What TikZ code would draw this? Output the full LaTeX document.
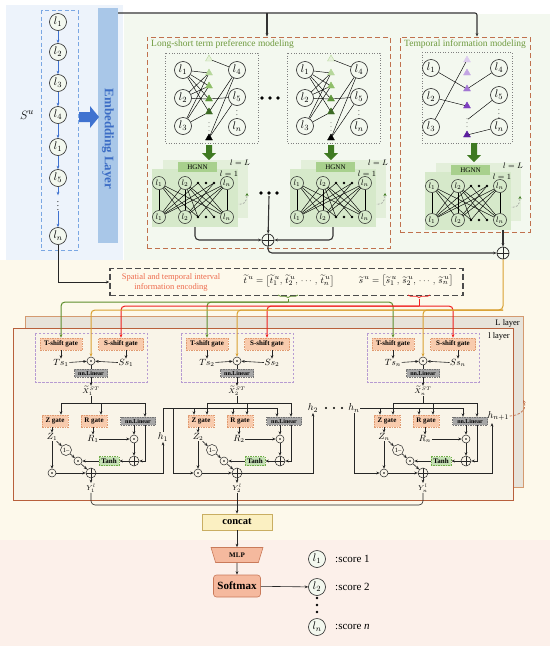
\documentclass[tikz,border=0pt]{standalone}
\usepackage{fontspec}
\setmainfont{Liberation Serif}
\usepackage{amsmath}
\usetikzlibrary{arrows.meta,decorations.pathreplacing,shapes.geometric,calc}
\definecolor{bluepanel}{HTML}{EDF3FB}
\definecolor{greenpanel}{HTML}{F3F8EF}
\definecolor{yellowpanel}{HTML}{FDF9EB}
\definecolor{pinkpanel}{HTML}{FCF0EA}
\definecolor{embfill}{HTML}{A9C7E8}
\definecolor{embtext}{HTML}{3C6DC5}
\definecolor{seqblue}{HTML}{3F72D0}
\definecolor{seqdash}{HTML}{7AA7E3}
\definecolor{brownd}{HTML}{C0714E}
\definecolor{labgreen}{HTML}{6E9A3E}
\definecolor{darkgreen}{HTML}{3F7A22}
\definecolor{hgback}{HTML}{E3EFDA}
\definecolor{hgfront}{HTML}{D6E9CA}
\definecolor{hgnnbox}{HTML}{A8D08D}
\definecolor{gatefill}{HTML}{F8CBAD}
\definecolor{gatedraw}{HTML}{E09A70}
\definecolor{linfill}{HTML}{A6A6A6}
\definecolor{tanhfill}{HTML}{C5E0B4}
\definecolor{tanhdraw}{HTML}{70AD47}
\definecolor{Lfill}{HTML}{E7E3DA}
\definecolor{Ldraw}{HTML}{D49A70}
\definecolor{lfill}{HTML}{F9F4E8}
\definecolor{ldraw}{HTML}{B8603C}
\definecolor{cellpurple}{HTML}{B79BD2}
\definecolor{encred}{HTML}{EE6B4D}
\definecolor{lineorange}{HTML}{D9A030}
\definecolor{linegreen}{HTML}{5E8E2E}
\definecolor{linered}{HTML}{F02020}
\definecolor{mlpfill}{HTML}{F5B99E}
\definecolor{mlpdraw}{HTML}{C97A5A}
\definecolor{concatfill}{HTML}{FBF0C2}
\definecolor{concatdraw}{HTML}{C9AE62}
\definecolor{ga}{HTML}{E6F1DA}\definecolor{gaa}{HTML}{B9D99E}
\definecolor{gb}{HTML}{B6D79B}\definecolor{gc}{HTML}{8FBF69}
\definecolor{gd}{HTML}{5E963A}\definecolor{ge}{HTML}{3C6A24}
\definecolor{pa}{HTML}{DDCCEE}\definecolor{pb}{HTML}{C3A5E3}
\definecolor{pc}{HTML}{A277D3}\definecolor{pd}{HTML}{7E3FC0}
\definecolor{pe}{HTML}{5B1F9E}
\tikzset{
  arr/.style={-{Stealth[length=3.5pt,width=2.8pt]}},
  conn/.style={draw=black!85,line width=0.6pt},
  thk/.style={draw=black!80,line width=1.1pt},
  thinl/.style={draw=black,line width=0.45pt},
  cir/.style={circle,draw=black!85,line width=0.6pt,minimum size=17pt,inner sep=0pt,fill=greenpanel,font=\fontsize{11}{11}\selectfont},
  hc/.style={circle,draw=black!85,line width=0.5pt,minimum size=13pt,inner sep=0pt,fill=hgfront,font=\fontsize{8.5}{8.5}\selectfont},
  tri/.style={regular polygon,regular polygon sides=3,minimum size=8pt,inner sep=0pt,line width=0.4pt},
  dotbox/.style={draw=black!50,dotted,line width=0.6pt},
  gatebox/.style={draw=gatedraw,dashed,dash pattern=on 1.5pt off 1pt,fill=gatefill,font=\bfseries\fontsize{7}{7}\selectfont,inner xsep=2pt,minimum height=12pt,inner ysep=0pt,line width=0.5pt},
  linbox/.style={draw=black!55,dashed,dash pattern=on 1.5pt off 1pt,fill=linfill,font=\bfseries\fontsize{6}{6}\selectfont,inner xsep=2pt,minimum height=8pt,inner ysep=0pt,line width=0.4pt},
  tanhbox/.style={draw=tanhdraw,dashed,dash pattern=on 1.5pt off 1pt,fill=tanhfill,font=\bfseries\fontsize{7}{7}\selectfont,inner xsep=2.5pt,minimum height=9pt,inner ysep=0pt,line width=0.5pt},
  odot/.style={circle,draw=black!85,line width=0.5pt,minimum size=8pt,inner sep=0pt,fill=lfill,path picture={\fill[black] (path picture bounding box.center) circle (0.8pt);}},
  oplus/.style={circle,draw=black!85,line width=0.5pt,minimum size=10pt,inner sep=0pt,fill=lfill,path picture={\draw[line width=0.5pt] (path picture bounding box.north) -- (path picture bounding box.south) (path picture bounding box.west) -- (path picture bounding box.east);}},
  bigplus/.style={circle,draw=black!85,line width=0.7pt,minimum size=12pt,inner sep=0pt,fill=greenpanel,path picture={\draw[line width=0.7pt] (path picture bounding box.north) -- (path picture bounding box.south) (path picture bounding box.west) -- (path picture bounding box.east);}},
  omin/.style={circle,draw=black!85,line width=0.5pt,minimum size=11pt,inner sep=0pt,fill=lfill,font=\fontsize{6.5}{6.5}\selectfont},
  lbl/.style={inner sep=0.5pt,font=\fontsize{9}{9}\selectfont},
  xlbl/.style={inner sep=0.5pt,font=\fontsize{7.5}{7.5}\selectfont},
  cellbox/.style={draw=cellpurple,dashed,dash pattern=on 2.5pt off 1.5pt,line width=0.7pt},
}
\newcommand{\fatarrow}[4]{\fill[#4] (#1-3,#2) -- (#1+3,#2) -- (#1+3,#3-7) -- (#1+7,#3-7) -- (#1,#3) -- (#1-7,#3-7) -- (#1-3,#3-7) -- cycle;}
\newcommand{\lssub}[2]{%
\begin{scope}[shift={(#1,0)}]
\draw[dotbox] (165,53) rectangle (258,143);
\node[cir] (#2a) at (183,70) {$l_1$};
\node[cir] (#2b) at (183,98) {$l_2$};
\node[cir] (#2c) at (183,126) {$l_3$};
\node[cir] (#2d) at (237,70) {$l_4$};
\node[cir] (#2e) at (237,97) {$l_5$};
\node[font=\fontsize{7}{7}\selectfont] (#2v) at (237,112) {$\vdots$};
\node[cir] (#2f) at (237,127) {$l_n$};
\node[tri,fill=ga,draw=gaa] (#2t1) at (209,59) {};
\node[tri,fill=gb,draw=gb] (#2t2) at (209,73) {};
\node[tri,fill=gc,draw=gc] (#2t3) at (209,86) {};
\node[tri,fill=gd,draw=gd] (#2t4) at (209,99) {};
\node[tri,fill=ge,draw=ge] (#2t5) at (209,112) {};
\node[font=\fontsize{6}{6}\selectfont] (#2tv) at (209,124) {$\vdots$};
\node[tri,fill=black,draw=black] (#2t6) at (209,138) {};
\foreach \u/\v in {a/t2,a/t3,a/t4,a/t5,b/t2,b/t3,b/t4,c/t2,c/t3,c/t5,t1/d,t5/d,t6/d,t4/e,t6/e}
  \draw[thinl] (#2\u) -- (#2\v);
\end{scope}}
\newcommand{\hgnnstack}[3]{%
\begin{scope}[shift={(#1,#2)}]
\node[fill=hgback,minimum width=85pt,minimum height=58pt,inner sep=0pt] (#3B) at (205.5,189) {};
\draw[dashed,dash pattern=on 2pt off 1.5pt,draw=black!45,line width=0.5pt,-{Stealth[length=3pt,width=3pt,color=darkgreen]}] (236,204) -- (241,204) to[out=0,in=-90] (247,193);
\node[fill=hgfront,minimum width=86pt,minimum height=58pt,inner sep=0pt] (#3F) at (195,198) {};
\coordinate (#3tm1) at (198,183); \coordinate (#3tm2) at (214,183);
\coordinate (#3bm1) at (198,217); \coordinate (#3bm2) at (214,217);
\node[hc] (#3t1) at (159,183) {$l_1$};
\node[hc] (#3t2) at (185,183) {$l_2$};
\node[hc] (#3tn) at (227,183) {$l_n$};
\node[hc] (#3b1) at (159,217) {$l_1$};
\node[hc] (#3b2) at (185,217) {$l_2$};
\node[hc] (#3bn) at (227,217) {$l_n$};
\foreach \u/\v in {t1/b1,t1/b2,t1/bn,t2/b1,t2/b2,t2/bn,tn/b1,tn/b2,tn/bn,t1/bm1,t2/bm2,tm1/b1,tm2/b2,tm1/bn,tm2/b1,t2/bm1,tn/bm1}
  \draw[thinl] (#3\u) -- (#3\v);
\foreach \xx in {198,206,214} {\fill (\xx,183) circle (1.3pt); \fill (\xx,217) circle (1.3pt);}
\node[fill=hgnnbox,minimum width=39pt,minimum height=10pt,inner sep=0pt,font=\fontsize{7}{7}\selectfont] (#3H) at (197.5,167) {HGNN};
\node[inner sep=0pt,font=\fontsize{8.5}{8.5}\selectfont] (#3lL) at (240,163) {$l=L$};
\node[inner sep=0pt,font=\fontsize{8.5}{8.5}\selectfont] (#3l1) at (229,174) {$l=1$};
\end{scope}}
\newcommand{\grucell}[3]{%
\begin{scope}[shift={(#1,0)}]
\draw[cellbox] (0,333) rectangle (112,382);
\node[gatebox,minimum width=42pt] (#2T) at (26,344) {T-shift gate};
\node[gatebox,minimum width=45pt] (#2S) at (86,344) {S-shift gate};
\node[lbl] (#2Ts) at (26,363) {$Ts_{#3}$};
\node[lbl] (#2Ss) at (91,363) {$Ss_{#3}$};
\node[odot] (#2o1) at (56,361) {};
\node[linbox,minimum width=33pt] (#2L1) at (56,373) {nn.Linear};
\node[xlbl] (#2X) at (56,391) {$\widetilde{X}_{#3}^{ST}$};
\node[gatebox,minimum width=26pt] (#2Z) at (20,421) {Z gate};
\node[gatebox,minimum width=26pt] (#2R) at (59,421) {R gate};
\node[linbox,minimum width=35pt] (#2L2) at (103,421) {nn.Linear};
\node[lbl] (#2Zl) at (17,437) {$Z_{#3}$};
\node[lbl] (#2Rl) at (58,439) {$R_{#3}$};
\node[odot] (#2o2) at (99,439) {};
\node[omin] (#2m) at (31,450) {1--};
\node[odot] (#2o3) at (43,461) {};
\node[tanhbox] (#2tanh) at (74,461) {Tanh};
\node[oplus] (#2p1) at (99,461) {};
\node[odot] (#2o4) at (17,473) {};
\node[oplus] (#2p2) at (56,473) {};
\node[xlbl] (#2Y) at (56,488) {$Y_{#3}^{l}$};
\coordinate (#2xa) at (26,403); \coordinate (#2xb) at (66,403); \coordinate (#2xc) at (110,403);
\coordinate (#2ha) at (13,408); \coordinate (#2hb) at (52,408); \coordinate (#2hc) at (96,408);
\draw[conn,arr] (#2T) -- (#2Ts);
\draw[conn,arr] (#2S.south -| #2Ss) -- (#2Ss);
\draw[conn,arr] (#2Ts) -- (#2o1);
\draw[conn,arr] (#2Ss) -- (#2o1);
\draw[conn] (#2o1) -- (#2L1);
\draw[conn,arr] (#2L1) -- (#2X);
\draw[conn] (#2X) -- (#2X |- #2xa);
\draw[conn] (#2xa) -- (#2xc);
\draw[conn,arr] (#2xa) -- (#2xa |- #2Z.north);
\draw[conn,arr] (#2xb) -- (#2xb |- #2R.north);
\draw[conn,arr] (#2xc) -- (#2xc |- #2L2.north);
\draw[conn,arr] (#2xc |- #2L2.south) |- (#2p1);
\draw[conn,arr] (#2L2.south -| #2o2) -- (#2o2);
\draw[conn,arr] (#2Rl) -- (#2o2);
\draw[conn,arr] (#2Z.south -| #2Zl) -- (#2Zl);
\draw[conn,arr] (#2R.south -| #2Rl) -- (#2Rl);
\draw[conn,arr] (#2Zl) -- (#2m);
\draw[conn,arr] (#2m) -- (#2o3);
\draw[conn,arr] (#2Zl) -- (#2o4);
\draw[conn,arr] (#2o2) -- (#2p1);
\draw[conn,arr] (#2p1) -- (#2tanh);
\draw[conn,arr] (#2tanh) -- (#2o3);
\draw[conn,arr] (#2o3) -- (#2p2);
\draw[conn,arr] (#2o4) -- (#2p2);
\draw[conn,arr] (#2p2) -- (#2Y);
\end{scope}}
\begin{document}
\begin{tikzpicture}[x=1pt,y=-1pt]
\useasboundingbox (0,0) rectangle (550,646);
\fill[white] (0,0) rectangle (550,646);
% panels
\fill[greenpanel] (124,14) rectangle (550,260);
\fill[bluepanel] (6,5) rectangle (123,260);
\fill[yellowpanel] (0,260) rectangle (550,540);
\fill[pinkpanel] (0,540) rectangle (550,646);
% sequence
\draw[seqdash,dashed,dash pattern=on 4pt off 2.5pt,line width=0.7pt] (41,10) rectangle (78,250);
\begin{scope}[every node/.append style={fill=bluepanel}]
\node[cir] (s1) at (58,22) {$l_1$};
\node[cir] (s2) at (58,52) {$l_2$};
\node[cir] (s3) at (58,83) {$l_3$};
\node[cir] (s4) at (58,115) {$l_4$};
\node[cir] (s5) at (58,147) {$l_1$};
\node[cir] (s6) at (58,178) {$l_5$};
\node[inner sep=0pt,font=\fontsize{9}{9}\selectfont] (sdots) at (58,203) {$\vdots$};
\node[cir] (sn) at (58,236) {$l_n$};
\end{scope}
\foreach \a/\b in {s1/s2,s2/s3,s3/s4,s4/s5,s5/s6,s6/sdots,sdots/sn}
  \draw[seqblue,line width=0.8pt,arr] (\a) -- (\b);
\node[font=\fontsize{13}{13}\selectfont] (Su) at (27,115) {$S^{u}$};
% embedding
\node[fill=embfill,minimum width=20pt,minimum height=235pt,inner sep=0pt] (emb) at (108,125.5) {};
\node[rotate=-90,text=embtext,font=\bfseries\fontsize{13}{13}\selectfont] (embt) at (108,139) {Embedding Layer};
\fill[seqblue] (79,112) -- (90,112) -- (90,106) -- (99,117) -- (90,128) -- (90,122) -- (79,122) -- cycle;
% modules
\node[draw=brownd,dashed,dash pattern=on 5pt off 3pt,line width=0.9pt,minimum width=243pt,minimum height=211pt,inner sep=0pt] (lsbox) at (268.5,142.5) {};
\node[draw=brownd,dashed,dash pattern=on 5pt off 3pt,line width=0.9pt,minimum width=130pt,minimum height=195pt,inner sep=0pt] (tbox) at (465,134.5) {};
\node[anchor=west,text=labgreen,inner sep=0pt,font=\fontsize{9.5}{9.5}\selectfont] (lslab) at (151,44) {Long-short term preference modeling};
\node[anchor=west,text=labgreen,inner sep=0pt,font=\fontsize{9.5}{9.5}\selectfont] (tlab) at (404,44) {Temporal information modeling};
\coordinate (tl0) at (118,13); \coordinate (tl1) at (267,13); \coordinate (tl2) at (477,13);
\draw[thk,arr,rounded corners=2pt] (tl0) -| (tl2 |- tbox.north);
\draw[thk,arr] (tl1) -- (tl1 |- lsbox.north);
\lssub{0}{la}
\lssub{122}{lb}
\foreach \xx in {262,270,278} \fill (\xx,98) circle (1.8pt);
% temporal sub-box
\draw[dotbox] (422,52) rectangle (512,143);
\node[cir] (ta) at (431,68) {$l_1$};
\node[cir] (tb) at (431,97) {$l_2$};
\node[cir] (tc) at (431,127) {$l_3$};
\node[cir] (td) at (499,68) {$l_4$};
\node[cir] (te) at (499,95) {$l_5$};
\node[font=\fontsize{7}{7}\selectfont] (tv) at (499,111) {$\vdots$};
\node[cir] (tf) at (499,127) {$l_n$};
\node[tri,fill=pa,draw=pa] (tt1) at (467,60) {};
\node[tri,fill=pb,draw=pb] (tt2) at (467,73) {};
\node[tri,fill=pc,draw=pc] (tt3) at (467,89) {};
\node[tri,fill=pd,draw=pd] (tt4) at (467,106) {};
\node[font=\fontsize{6}{6}\selectfont,inner sep=0pt] (ttv) at (467,120) {$\vdots$};
\node[tri,fill=pe,draw=pe] (tt5) at (467,135) {};
\foreach \u/\v in {ta/tt3,tb/tt4,tc/tt1,td/tt3,te/ttv,tf/tt5}
  \draw[thinl] (\u) -- (\v);
% green arrows
\fatarrow{209}{145}{160}{darkgreen}
\fatarrow{331}{145}{160}{darkgreen}
\fatarrow{474}{143}{162}{darkgreen}
% HGNN stacks
\hgnnstack{0}{0}{ha}
\hgnnstack{138}{0}{hb}
\hgnnstack{273}{3}{hcc}
\foreach \xx in {261,269,277} \fill (\xx,193) circle (1.8pt);
\coordinate (hdots) at (269,196);
\node[bigplus] (lsplus) at (268,240) {};
\node[bigplus] (fplus) at (503,253) {};
\draw[thk,arr,rounded corners=4pt] (haF.south) |- (lsplus);
\draw[thk,arr,rounded corners=4pt] (hbF.south) |- (lsplus);
\draw[thk,arr] (hdots) -- (lsplus);
\draw[thk,arr,rounded corners=4pt] (lsplus.south) |- (fplus);
\draw[thk,arr] (hccF.south -| fplus) -- (fplus);
% encoding
\node[draw=black!70,dashed,dash pattern=on 6pt off 3pt,line width=1.3pt,minimum width=353pt,minimum height=27pt,inner sep=0pt,fill=yellowpanel] (enc) at (286.5,282) {};
\node[text=encred,align=center,font=\fontsize{8.5}{10}\selectfont] (enctxt) at (171,282) {Spatial and temporal interval\\information encoding};
\node[font=\fontsize{9.5}{9.5}\selectfont,inner sep=0pt] (tvec) at (289,281) {$\widetilde{t}^{\,u}=\bigl[\widetilde{t}_1^{\,u},\,\widetilde{t}_2^{\,u},\,\cdots,\,\widetilde{t}_n^{\,u}\bigr]$};
\node[font=\fontsize{9.5}{9.5}\selectfont,inner sep=0pt] (svec) at (406,281) {$\widetilde{s}^{\,u}=\bigl[\widetilde{s}_1^{\,u},\,\widetilde{s}_2^{\,u},\,\cdots,\,\widetilde{s}_n^{\,u}\bigr]$};
\draw[conn,line width=0.8pt,arr] (sn.south) |- (enc.west);
% layer boxes
\draw[draw=Ldraw,fill=Lfill,line width=0.8pt] (25,316) rectangle (523,487);
\node[anchor=east,inner sep=0pt,font=\fontsize{8.5}{8.5}\selectfont] (Llab) at (520,323) {L layer};
\draw[draw=ldraw,fill=lfill,line width=0.8pt] (13,328) rectangle (513,500);
\node[anchor=east,inner sep=0pt,font=\fontsize{8.5}{8.5}\selectfont] (llab) at (510,336) {l layer};
% cells
\grucell{35}{ca}{1}
\grucell{181}{cb}{2}
\grucell{367}{cn}{n}
% braces and colored lines
\draw[linegreen,line width=0.7pt,decorate,decoration={brace,mirror,amplitude=2.5pt}] (278,295) -- (298,295);
\draw[linered,line width=0.7pt,decorate,decoration={brace,mirror,amplitude=2.5pt}] (408,295) -- (430,295);
\coordinate (gj) at (288,302);
\coordinate (rj) at (419,306);
\coordinate (oj) at (503,310);
\draw[linegreen,line width=1pt,arr,rounded corners=4pt] (gj) -| (caT.north);
\draw[linegreen,line width=1pt,arr,rounded corners=4pt] (gj) -| (cbT.north);
\draw[linegreen,line width=1pt,arr,rounded corners=4pt] (gj) -| (cnT.north);
\draw[linegreen,line width=1pt] (288,298.5) -- (gj);
\draw[linered,line width=1pt,arr,rounded corners=4pt] (rj) -| (caS.north);
\draw[linered,line width=1pt,arr,rounded corners=4pt] (rj) -| (cbS.north);
\draw[linered,line width=1pt,arr,rounded corners=4pt] (rj) -| (cnS.north);
\draw[linered,line width=1pt] (419,298.5) -- (rj);
\draw[lineorange,line width=1pt,arr,rounded corners=4pt] (fplus.south) -- (oj) -| (cao1.north);
\draw[lineorange,line width=1pt,arr,rounded corners=4pt] (oj) -| (cbo1.north);
\draw[lineorange,line width=1pt,arr,rounded corners=4pt] (oj) -| (cno1.north);
% hidden states
\node[inner sep=0.5pt,font=\fontsize{10}{10}\selectfont] (h1) at (163,437) {$h_1$};
\draw[conn,arr] (cap2) -| (h1.south);
\draw[conn] (h1.north) |- (cbhc);
\coordinate (br1) at (173,408);
\draw[conn,arr] (br1) |- (cbo4);
\foreach \c in {cb,cn} {
  \draw[conn,arr] (\c ha) -- (\c ha |- \c Z.north);
  \draw[conn,arr] (\c hb) -- (\c hb |- \c R.north);
  \draw[conn,arr] (\c hc) -- (\c hc |- \c L2.north);
}
\node[inner sep=0.5pt,font=\fontsize{10}{10}\selectfont] (h2) at (313,408) {$h_2$};
\foreach \xx in {326,334,342} \fill (\xx,408) circle (1.2pt);
\node[inner sep=0.5pt,font=\fontsize{10}{10}\selectfont] (hn) at (354,408) {$h_n$};
\draw[conn,arr] (cbp2) -| (h2.south);
\draw[conn] (hn.east) -- (cnhc);
\draw[conn,arr] (hn.south) |- (cno4);
\node[anchor=west,inner sep=0.5pt,font=\fontsize{10}{10}\selectfont] (hnp) at (487,416) {$h_{n+1}$};
\coordinate (hnpx) at (492,423);
\draw[conn,arr] (cnp2) -| (hnpx);
\draw[brownd,dashed,dash pattern=on 2.5pt off 1.5pt,line width=0.7pt,arr] (hnp.east) .. controls (518,416) and (528,410) .. (523,400);
% outputs
\node[draw=concatdraw,fill=concatfill,line width=0.6pt,minimum width=70pt,minimum height=16pt,inner sep=0pt,font=\bfseries\fontsize{10.5}{10.5}\selectfont] (concat) at (237,522) {concat};
\coordinate (ybar) at (237,505);
\draw[conn,rounded corners=4pt] (caY.south) |- (ybar) -| (cnY.south);
\draw[conn,arr] (cbY.south) -- (concat.north);
\node[trapezium,trapezium angle=70,shape border rotate=180,trapezium stretches=true,draw=mlpdraw,fill=mlpfill,line width=0.6pt,minimum width=52pt,minimum height=15pt,inner sep=0pt,font=\bfseries\fontsize{7}{7}\selectfont] (mlp) at (237,555) {MLP};
\node[draw=mlpdraw,fill=mlpfill,rounded corners=3pt,line width=0.6pt,minimum width=47pt,minimum height=22pt,inner sep=0pt,font=\bfseries\fontsize{11}{11}\selectfont] (soft) at (237,586) {Softmax};
\draw[conn,arr] (concat) -- (mlp);
\draw[conn,arr] (mlp) -- (soft);
\begin{scope}[every node/.append style={fill=pinkpanel}]
\node[cir] (r1) at (317,559) {$l_1$};
\node[cir] (r2) at (317,587) {$l_2$};
\node[cir] (rn) at (317,627) {$l_n$};
\end{scope}
\foreach \yy in {598,605,612} \fill (317,\yy) circle (1.4pt);
\draw[conn,arr] (soft) -- (r2);
\node[anchor=west,inner sep=0pt,font=\fontsize{11}{11}\selectfont] (sc1) at (335,559) {:score 1};
\node[anchor=west,inner sep=0pt,font=\fontsize{11}{11}\selectfont] (sc2) at (335,587) {:score 2};
\node[anchor=west,inner sep=0pt,font=\fontsize{11}{11}\selectfont] (scn) at (335,627) {:score \textit{n}};
\end{tikzpicture}
\end{document}
